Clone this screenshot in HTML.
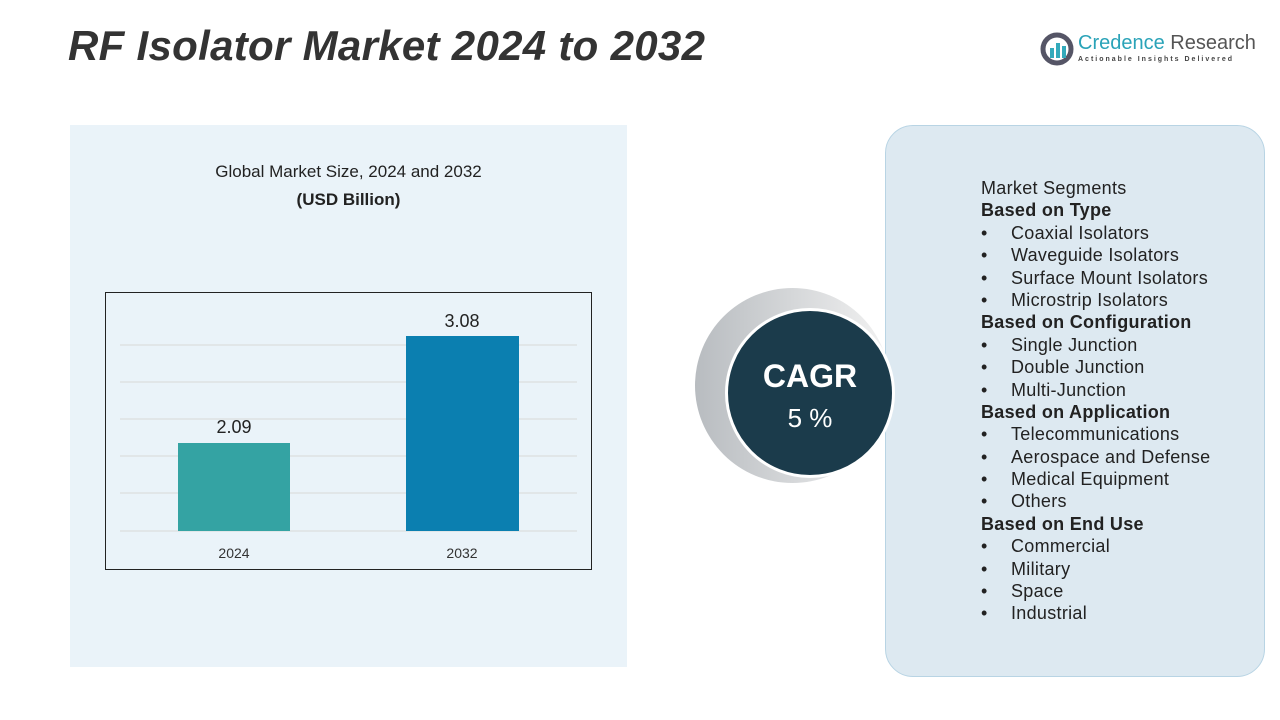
<!DOCTYPE html>
<html><head><style>
body{margin:0;width:1280px;height:720px;background:#fff;position:relative;overflow:hidden;font-family:"Liberation Sans",sans-serif;}
.abs{position:absolute;}
.seg div{height:22.4px;line-height:22.4px;white-space:nowrap}
.b{font-weight:bold}
.i{padding-left:30px;position:relative}
.i:before{content:"•";position:absolute;left:0}
</style></head><body>
<div class="abs" style="left:68px;top:22px;font-size:42px;font-weight:bold;font-style:italic;color:#333;letter-spacing:0.3px;white-space:nowrap">RF Isolator Market 2024 to 2032</div>
<svg class="abs" style="left:1040px;top:32px" width="36" height="34"><circle cx="17" cy="17" r="14" fill="none" stroke="#556" stroke-width="5"/><rect x="10" y="16" width="4" height="10" fill="#3ab"/><rect x="16" y="11" width="4" height="15" fill="#3ab"/><rect x="22" y="14" width="4" height="12" fill="#3ab"/></svg>
<div class="abs" style="left:1078px;top:32px;font-size:20px;color:#2aa3b8;white-space:nowrap">Credence <span style="color:#555">Research</span></div>
<div class="abs" style="left:1078px;top:56px;font-size:7px;letter-spacing:2px;color:#444;white-space:nowrap;font-weight:bold">Actionable Insights Delivered</div>
<div class="abs" style="left:70px;top:125px;width:557px;height:542px;background:#eaf3f9"></div>
<div class="abs" style="left:70px;top:162px;width:557px;text-align:center;font-size:17px;color:#222">Global Market Size, 2024 and 2032</div>
<div class="abs" style="left:70px;top:190px;width:557px;text-align:center;font-size:17px;font-weight:bold;color:#222">(USD Billion)</div>
<svg class="abs" style="left:105px;top:292px" width="488" height="279">
<rect x="0.5" y="0.5" width="486" height="277" fill="none" stroke="#222"/>
<g stroke="#d8d8d8"><line x1="15" x2="472" y1="53" y2="53"/><line x1="15" x2="472" y1="90" y2="90"/><line x1="15" x2="472" y1="127" y2="127"/><line x1="15" x2="472" y1="164" y2="164"/><line x1="15" x2="472" y1="201" y2="201"/><line x1="15" x2="472" y1="239" y2="239"/></g>
<rect x="73" y="151" width="112" height="88" fill="#34a3a3"/>
<rect x="301" y="44" width="113" height="195" fill="#0b7fb0"/>
<text x="129" y="141" font-size="18" text-anchor="middle" fill="#222">2.09</text>
<text x="357" y="35" font-size="18" text-anchor="middle" fill="#222">3.08</text>
<text x="129" y="266" font-size="14" text-anchor="middle" fill="#333">2024</text>
<text x="357" y="266" font-size="14" text-anchor="middle" fill="#333">2032</text>
</svg>
<div class="abs" style="left:885px;top:125px;width:378px;height:550px;background:#dde9f1;border:1.5px solid #b8d4e4;border-radius:28px"></div>
<div class="abs" style="left:695px;top:288px;width:195px;height:195px;border-radius:50%;background:linear-gradient(90deg,#b8bcc0,#f2f2f2)"></div>
<div class="abs" style="left:725px;top:308px;width:170px;height:170px;border-radius:50%;background:#1b3b4b;border:3px solid #fff;box-sizing:border-box"></div>
<div class="abs" style="left:725px;top:358px;width:170px;text-align:center;color:#fff;font-size:32px;font-weight:bold">CAGR</div>
<div class="abs" style="left:725px;top:403px;width:170px;text-align:center;color:#fff;font-size:26px">5 %</div>
<div class="abs seg" style="left:981px;top:177px;font-size:18px;color:#222;letter-spacing:0.3px">
<div>Market Segments</div><div class="b">Based on Type</div>
<div class="i">Coaxial Isolators</div><div class="i">Waveguide Isolators</div><div class="i">Surface Mount Isolators</div><div class="i">Microstrip Isolators</div>
<div class="b">Based on Configuration</div>
<div class="i">Single Junction</div><div class="i">Double Junction</div><div class="i">Multi-Junction</div>
<div class="b">Based on Application</div>
<div class="i">Telecommunications</div><div class="i">Aerospace and Defense</div><div class="i">Medical Equipment</div><div class="i">Others</div>
<div class="b">Based on End Use</div>
<div class="i">Commercial</div><div class="i">Military</div><div class="i">Space</div><div class="i">Industrial</div>
</div>
</body></html>
